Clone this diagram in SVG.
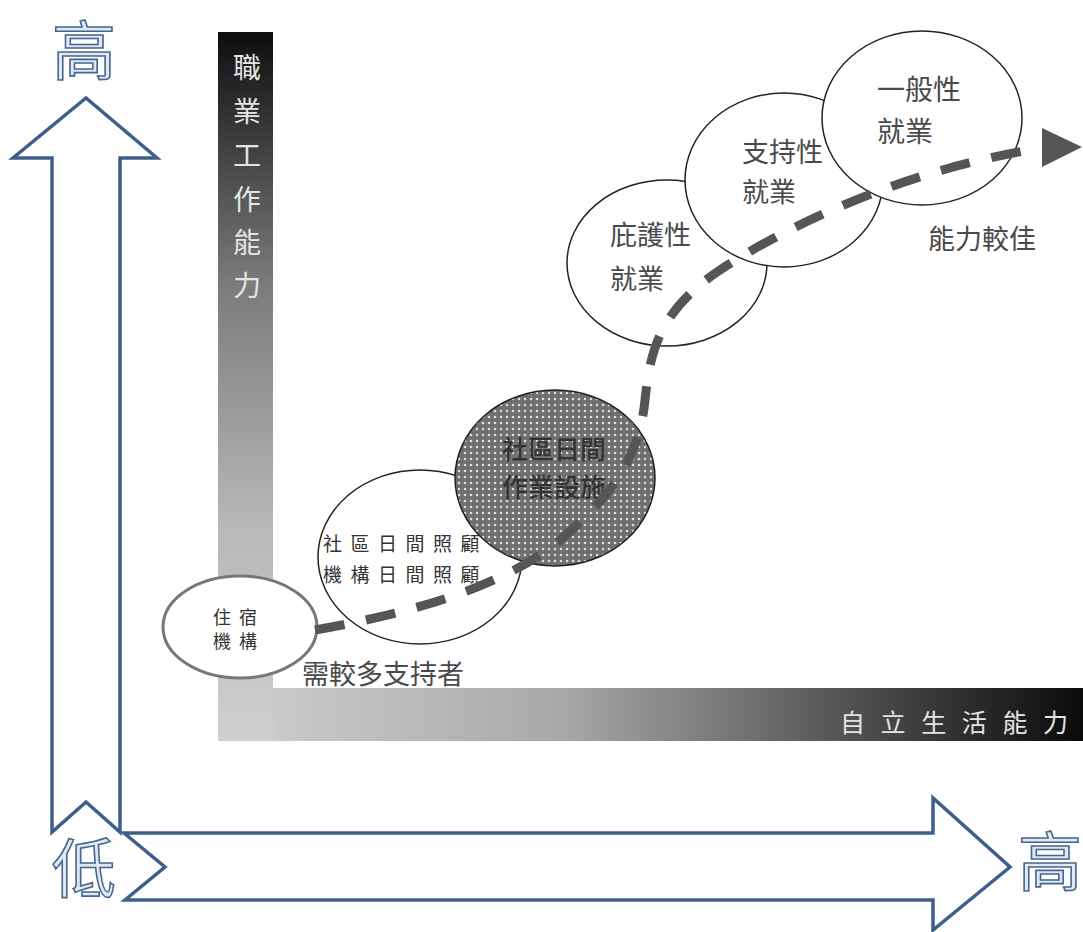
<svg xmlns="http://www.w3.org/2000/svg" width="1083" height="932" viewBox="0 0 1083 932">
<style>
.arrow{fill:#fff;stroke:#3f5f8a;stroke-width:3.5;stroke-linejoin:miter}
.big{font-family:"Noto Sans CJK TC","Noto Sans CJK SC",sans-serif;font-size:64px;fill:#dfe8f4;stroke:#46668f;stroke-width:1.6;text-anchor:middle;dominant-baseline:central}
.bartxt{font-family:"Noto Sans CJK TC","Noto Sans CJK SC",sans-serif;fill:#e4e4e4;dominant-baseline:central}
.node{fill:#fff;stroke:#222;stroke-width:1.5}
.t{font-family:"Noto Sans CJK TC","Noto Sans CJK SC",sans-serif;fill:#4a4a4a;dominant-baseline:central}
.s{font-family:"Noto Sans CJK TC","Noto Sans CJK SC",sans-serif;fill:#333;dominant-baseline:central}
</style>
<defs>
<linearGradient id="vg" x1="0" y1="0" x2="0" y2="1">
<stop offset="0" stop-color="#0e0e0e"/>
<stop offset="0.35" stop-color="#7a7a7a"/>
<stop offset="0.7" stop-color="#b8b8b8"/>
<stop offset="1" stop-color="#cfcfcf"/>
</linearGradient>
<linearGradient id="hg" x1="0" y1="0" x2="1" y2="0">
<stop offset="0" stop-color="#d0d0d0"/>
<stop offset="0.4" stop-color="#a8a8a8"/>
<stop offset="0.7" stop-color="#5a5a5a"/>
<stop offset="1" stop-color="#0a0a0a"/>
</linearGradient>
<pattern id="dots" width="6" height="6" patternUnits="userSpaceOnUse">
<rect width="6" height="6" fill="#6f6f6f"/>
<circle cx="3" cy="3" r="1.3" fill="#dcdcdc"/>
</pattern>
</defs>

<g id="axis-arrows">
<polygon class="arrow" points="52,832 52,158 13,158 86,98 157,158 120,158 120,832 86,802"/>
<polygon class="arrow" points="124,833 933,833 933,798 1010,867 933,930 933,900 125,900 165,867"/>
<text class="big" x="84" y="46">高</text>
<text class="big" x="84" y="864">低</text>
<text class="big" x="1050" y="857">高</text>
</g>

<g id="bar-horizontal">
<rect x="218" y="688" width="865" height="53" fill="url(#hg)"/>
<text class="bartxt" x="840" y="721" font-size="25" letter-spacing="15.6">自立生活能力</text>
</g>
<g id="bar-vertical">
<rect x="218" y="32" width="55" height="709" fill="url(#vg)"/>
<g class="bartxt" font-size="28" text-anchor="middle">
<text x="247" y="66">職</text>
<text x="247" y="110">業</text>
<text x="247" y="154">工</text>
<text x="247" y="198">作</text>
<text x="247" y="241">能</text>
<text x="247" y="284">力</text>
</g>
</g>

<g id="node-daycare">
<ellipse class="node" cx="420" cy="557" rx="102" ry="87"/>
<text class="s" x="323" y="542" font-size="19" letter-spacing="8.5">社區日間照顧</text>
<text class="s" x="323" y="573" font-size="19" letter-spacing="8.5">機構日間照顧</text>
</g>
<g id="node-residential">
<ellipse cx="240" cy="627" rx="77" ry="51" fill="#fff" stroke="#777" stroke-width="3"/>
<text class="s" x="213" y="616" font-size="18" letter-spacing="8">住宿</text>
<text class="s" x="213" y="640" font-size="18" letter-spacing="8">機構</text>
</g>
<g id="node-workshop">
<ellipse cx="555" cy="478" rx="100" ry="88" fill="url(#dots)" stroke="#222" stroke-width="1.5"/>
<text class="s" x="554" y="447" font-size="26" font-weight="500" text-anchor="middle" fill="#1a1a1a">社區日間</text>
<text class="s" x="554" y="485" font-size="26" font-weight="500" text-anchor="middle" fill="#1a1a1a">作業設施</text>
</g>
<g id="node-sheltered">
<ellipse class="node" cx="667" cy="263" rx="100" ry="83"/>
<text class="t" x="610" y="233" font-size="27">庇護性</text>
<text class="t" x="610" y="277" font-size="27">就業</text>
</g>
<g id="node-supported">
<ellipse class="node" cx="784" cy="180" rx="99" ry="87"/>
<text class="t" x="742" y="150" font-size="27">支持性</text>
<text class="t" x="742" y="190" font-size="27">就業</text>
</g>
<g id="node-general">
<ellipse class="node" cx="922" cy="118" rx="100" ry="87"/>
<text class="t" x="877" y="88" font-size="28">一般性</text>
<text class="t" x="877" y="130" font-size="28">就業</text>
</g>

<g id="labels">
<text class="t" x="928" y="237" font-size="27">能力較佳</text>
<text class="t" x="302" y="672" font-size="27">需較多支持者</text>
</g>

<g id="connectors">
<path d="M 315 630 C 400 615, 500 590, 560 540 S 640 450, 645 400 S 660 310, 720 270 S 900 170, 1042 148" fill="none" stroke="#555" stroke-width="9" stroke-dasharray="30 22"/>
<polygon points="1042,128 1082,147 1042,167" fill="#555"/>
</g>
</svg>
